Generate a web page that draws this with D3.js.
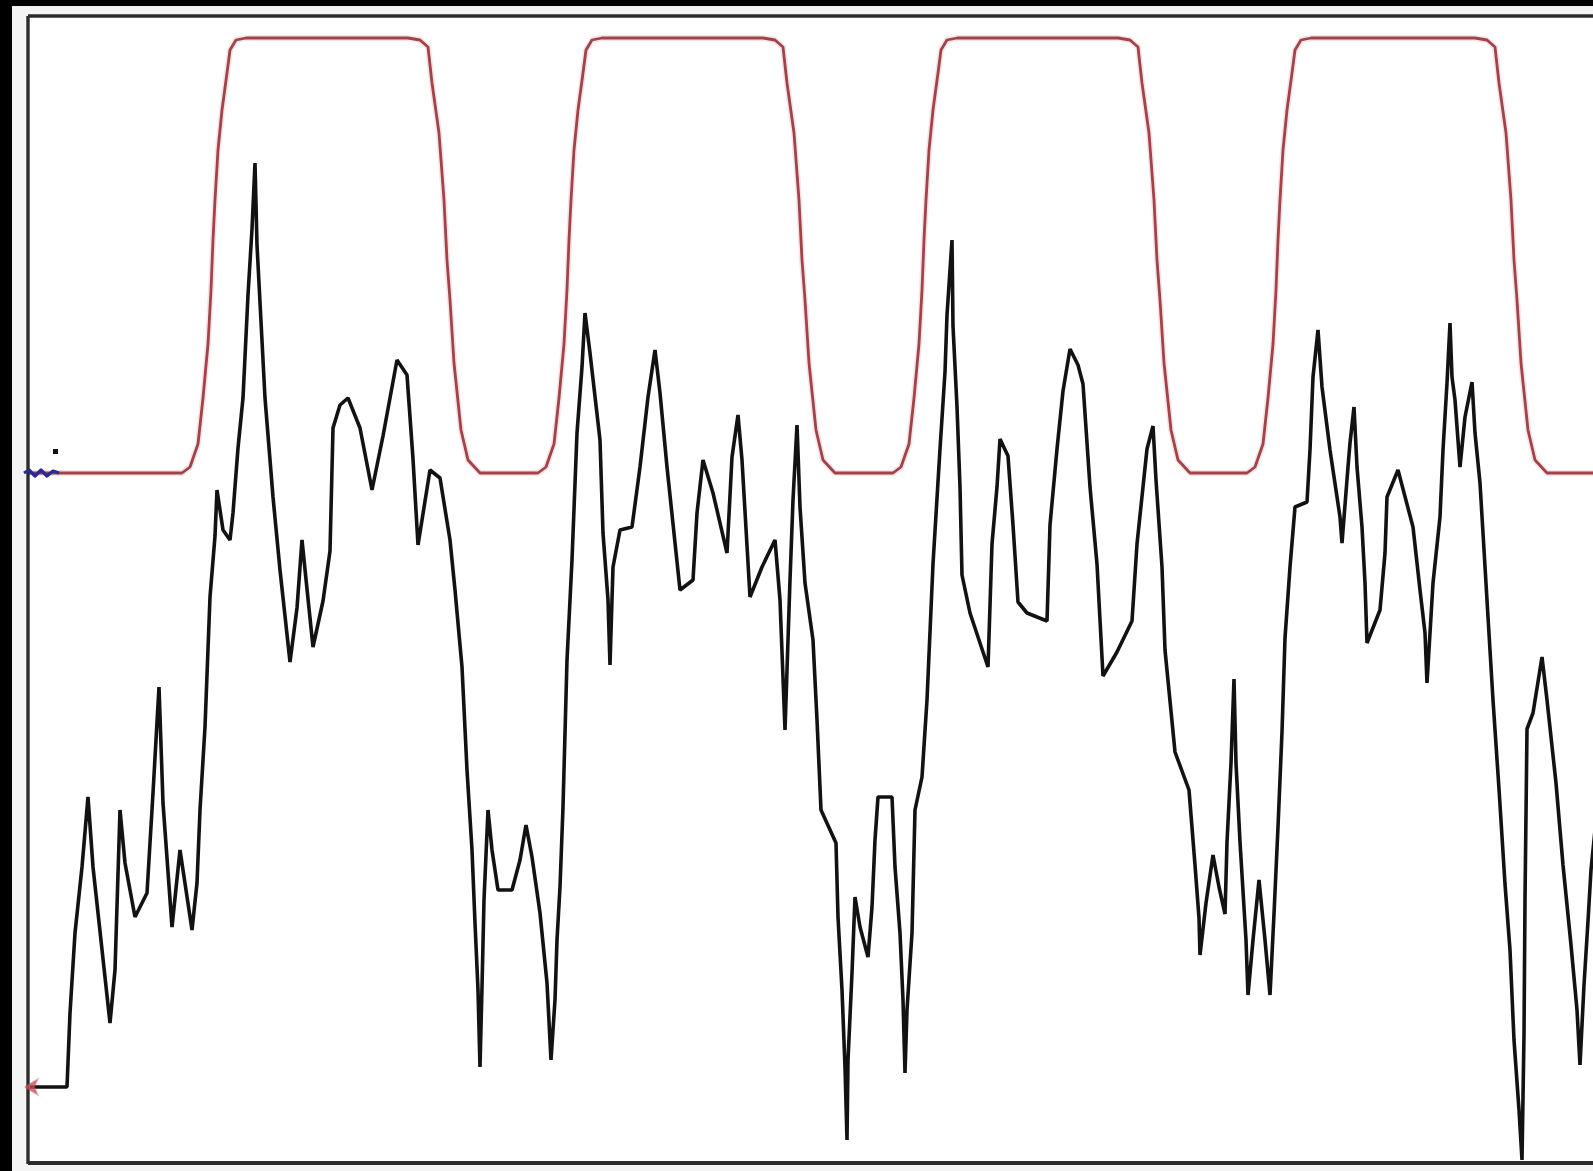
<!DOCTYPE html>
<html>
<head>
<meta charset="utf-8">
<script src="https://cdn.jsdelivr.net/npm/d3@7/dist/d3.min.js"></script>
<style>
  html, body { margin: 0; padding: 0; background: #ffffff; overflow: hidden; }
  svg { display: block; }
</style>
</head>
<body>
<svg id="scope" width="1593" height="1171"></svg>
<script>
// Time base (ms) of the capture window
const timeWindow = [0, 156.5];

// Channel 2 (reference clock), volts above its ground marker: [t ms, V]
const clockTrace = [
  [0, 0],
  [15.4, 0], [16.2, 0.06], [17.0, 0.29], [17.5, 0.75], [18.0, 1.29], [18.3, 1.83], [18.5, 2.33],
  [18.7, 2.73], [19.0, 3.23], [19.4, 3.63], [19.9, 4.00], [20.2, 4.23], [20.8, 4.33], [21.8, 4.35],
  [38.0, 4.35], [39.2, 4.33], [40.0, 4.26], [40.4, 3.90], [41.1, 3.40], [41.6, 2.73], [41.9, 2.13],
  [42.2, 1.73], [42.6, 1.10], [43.3, 0.43], [44.0, 0.13], [45.2, 0],
  [51.0, 0], [51.8, 0.06], [52.6, 0.29], [53.1, 0.75], [53.6, 1.29], [53.9, 1.83], [54.1, 2.33],
  [54.3, 2.73], [54.6, 3.23], [55.0, 3.63], [55.5, 4.00], [55.8, 4.23], [56.4, 4.33], [57.4, 4.35],
  [73.5, 4.35], [74.7, 4.33], [75.5, 4.26], [75.9, 3.90], [76.6, 3.40], [77.1, 2.73], [77.4, 2.13],
  [77.7, 1.73], [78.1, 1.10], [78.8, 0.43], [79.5, 0.13], [80.7, 0],
  [86.5, 0], [87.3, 0.06], [88.1, 0.29], [88.6, 0.75], [89.1, 1.29], [89.4, 1.83], [89.6, 2.33],
  [89.8, 2.73], [90.1, 3.23], [90.5, 3.63], [91.0, 4.00], [91.3, 4.23], [91.9, 4.33], [92.9, 4.35],
  [109.0, 4.35], [110.2, 4.33], [111.0, 4.26], [111.4, 3.90], [112.1, 3.40], [112.6, 2.73], [112.9, 2.13],
  [113.2, 1.73], [113.6, 1.10], [114.3, 0.43], [115.0, 0.13], [116.2, 0],
  [121.9, 0], [122.7, 0.06], [123.5, 0.29], [124.0, 0.75], [124.5, 1.29], [124.8, 1.83], [125.0, 2.33],
  [125.2, 2.73], [125.5, 3.23], [125.9, 3.63], [126.4, 4.00], [126.7, 4.23], [127.3, 4.33], [128.3, 4.35],
  [144.7, 4.35], [145.9, 4.33], [146.7, 4.26], [147.1, 3.90], [147.8, 3.40], [148.3, 2.73], [148.6, 2.13],
  [148.9, 1.73], [149.3, 1.10], [150.0, 0.43], [150.7, 0.13], [151.9, 0],
  [156.5, 0]
];

// Channel 1 (probe signal), volts above its ground marker: [t ms, V]
const probeTrace = [
  [0.2, 0.00], [3.9, 0.00], [4.2, 0.74], [4.7, 1.54], [5.4, 2.20], [6.0, 2.90], [6.5, 2.20],
  [8.2, 0.64], [8.7, 1.17], [9.2, 2.77], [9.7, 2.24], [10.7, 1.70], [11.9, 1.94], [12.5, 2.94],
  [13.1, 4.00], [13.5, 2.84], [14.4, 1.60], [15.2, 2.37], [16.4, 1.57], [16.9, 2.04], [17.2, 2.77],
  [17.7, 3.60], [18.2, 4.90], [18.7, 5.51], [18.9, 5.97], [19.5, 5.57], [20.2, 5.47], [20.5, 5.74],
  [21.0, 6.39], [21.5, 6.89], [22.0, 7.92], [22.4, 8.58], [22.7, 9.24], [22.9, 8.42], [23.7, 6.89],
  [24.5, 5.90], [25.2, 5.17], [26.2, 4.25], [26.9, 4.79], [27.4, 5.47], [27.9, 4.98], [28.5, 4.40],
  [29.5, 4.86], [30.2, 5.36], [30.5, 6.59], [31.2, 6.82], [32.0, 6.89], [33.2, 6.59], [34.4, 5.97],
  [35.5, 6.51], [36.9, 7.27], [37.9, 7.12], [38.5, 6.28], [39.0, 5.42], [40.2, 6.17], [41.2, 6.09],
  [42.2, 5.47], [42.7, 4.97], [43.4, 4.20], [43.9, 3.17], [44.4, 2.37], [44.7, 1.64], [45.0, 0.97],
  [45.2, 0.20], [45.4, 1.00], [45.6, 1.87], [46.0, 2.77], [46.4, 2.37], [47.0, 1.97], [48.4, 1.97],
  [49.2, 2.27], [49.8, 2.62], [50.4, 2.30], [51.2, 1.74], [51.9, 1.04], [52.3, 0.27], [52.7, 0.87],
  [52.9, 1.47], [53.2, 2.00], [53.5, 2.80], [53.9, 4.27], [54.4, 5.27], [54.9, 6.54], [55.4, 7.20],
  [55.7, 7.74], [56.2, 7.34], [57.2, 6.47], [57.5, 5.54], [58.0, 4.87], [58.2, 4.22], [58.5, 5.20],
  [59.2, 5.57], [60.4, 5.60], [61.2, 6.20], [62.0, 6.90], [62.7, 7.37], [63.2, 6.94], [63.9, 6.20],
  [65.2, 4.97], [66.5, 5.07], [66.9, 5.74], [67.5, 6.27], [68.5, 5.94], [69.9, 5.34], [70.4, 6.30],
  [71.0, 6.72], [71.4, 6.27], [72.2, 4.90], [73.4, 5.20], [74.7, 5.47], [75.2, 4.87], [75.7, 3.57],
  [76.2, 5.07], [76.5, 5.87], [76.9, 6.62], [77.2, 5.80], [77.7, 5.04], [78.5, 4.47], [78.9, 3.67],
  [79.3, 2.77], [80.8, 2.44], [81.0, 1.70], [81.4, 0.97], [81.7, 0.20], [81.9, -0.53], [82.0, 0.27],
  [82.4, 1.14], [82.7, 1.90], [83.2, 1.60], [84.0, 1.30], [84.4, 1.80], [84.7, 2.47], [85.0, 2.90],
  [86.4, 2.90], [86.7, 2.20], [87.2, 1.54], [87.5, 0.87], [87.7, 0.14], [87.9, 0.77], [88.4, 1.54],
  [88.7, 2.77], [89.4, 3.10], [89.9, 3.87], [90.5, 5.23], [91.2, 6.38], [91.7, 7.15], [91.9, 7.72],
  [92.4, 8.47], [92.5, 7.61], [92.9, 6.80], [93.2, 6.00], [93.4, 5.12], [94.2, 4.74], [96.0, 4.20],
  [96.4, 5.43], [96.9, 6.00], [97.2, 6.48], [98.0, 6.31], [98.5, 5.62], [99.0, 4.85], [99.9, 4.74],
  [101.9, 4.66], [102.2, 5.62], [102.9, 6.38], [103.5, 6.96], [104.2, 7.38], [105.0, 7.22], [105.5, 7.03],
  [106.2, 6.00], [106.9, 5.23], [107.5, 4.11], [108.9, 4.35], [110.4, 4.66], [110.9, 5.43], [111.9, 6.38],
  [112.5, 6.61], [112.8, 6.07], [113.4, 5.20], [113.7, 4.37], [114.7, 3.35], [116.1, 2.97], [116.7, 2.22],
  [117.1, 1.69], [117.2, 1.32], [117.8, 1.84], [118.5, 2.32], [119.1, 2.00], [119.7, 1.73], [119.9, 2.45],
  [120.3, 3.24], [120.6, 4.08], [120.8, 3.24], [121.2, 2.45], [121.8, 1.47], [122.0, 0.92], [122.5, 1.47],
  [123.1, 2.07], [123.7, 1.47], [124.2, 0.92], [124.6, 1.73], [125.0, 2.60], [125.4, 3.55], [125.7, 4.49],
  [126.2, 5.20], [126.7, 5.80], [127.9, 5.85], [128.2, 6.37], [128.5, 7.10], [129.0, 7.57], [129.4, 7.00],
  [130.2, 6.37], [131.2, 5.70], [131.4, 5.44], [132.0, 6.20], [132.2, 6.44], [132.6, 6.80], [132.9, 6.20],
  [133.4, 5.60], [133.7, 5.04], [133.9, 4.44], [135.2, 4.77], [135.7, 5.34], [135.9, 5.90], [137.0, 6.17],
  [138.5, 5.60], [139.2, 4.97], [139.7, 4.54], [139.9, 4.04], [140.5, 5.04], [141.2, 5.70], [141.5, 6.37],
  [141.9, 7.04], [142.2, 7.64], [142.4, 7.10], [142.7, 6.87], [143.2, 6.20], [143.7, 6.70], [144.4, 7.05],
  [144.7, 6.54], [145.2, 6.04], [145.5, 5.54], [146.0, 4.70], [146.5, 3.87], [147.1, 2.98], [147.7, 2.03],
  [148.2, 1.37], [148.6, 0.47], [149.1, -0.23], [149.4, -0.73], [149.6, 0.52], [149.7, 1.87], [149.9, 3.58],
  [150.5, 3.74], [151.4, 4.30], [151.9, 3.87], [152.8, 3.04], [153.5, 2.22], [154.3, 1.42], [154.9, 0.77],
  [155.2, 0.22], [155.6, 1.02], [156.0, 1.66], [156.3, 2.17], [156.8, 2.67]
];

// Vertical windows of the two channels (each channel has its own offset)
const probeRange = [-0.75, 10.71];
const clockRange = [-6.89, 4.57];

const colors = {
  probe: "#121212",
  clock: "#a0434a",
  clockMarker: "#2a2a96",
  probeMarker: "#c8505c",
  frame: "#2b2b2b",
  margin: "#f3f4f3",
  bezel: "#000000"
};

const W = 1593, H = 1171;
const plot = { left: 28, top: 16, right: 1593, bottom: 1162 };

const svg = d3.select("#scope");

// Outer bezel and margin
svg.append("rect").attr("x", 0).attr("y", 0).attr("width", W).attr("height", H).attr("fill", colors.margin);
svg.append("rect").attr("x", 0).attr("y", 0).attr("width", W).attr("height", 6).attr("fill", colors.bezel);
svg.append("rect").attr("x", 0).attr("y", 0).attr("width", 12).attr("height", H).attr("fill", colors.bezel);

// Screen area
svg.append("rect")
  .attr("x", plot.left).attr("y", plot.top)
  .attr("width", plot.right - plot.left + 10).attr("height", plot.bottom - plot.top)
  .attr("fill", "#ffffff");

const x = d3.scaleLinear().domain(timeWindow).range([plot.left, plot.right]);
const yProbe = d3.scaleLinear().domain(probeRange).range([plot.bottom, plot.top]);
const yClock = d3.scaleLinear().domain(clockRange).range([plot.bottom, plot.top]);

svg.append("clipPath").attr("id", "screen")
  .append("rect")
  .attr("x", plot.left + 1).attr("y", plot.top)
  .attr("width", plot.right - plot.left + 10).attr("height", plot.bottom - plot.top);

const traces = svg.append("g").attr("clip-path", "url(#screen)");

const clockLine = d3.line().x(d => x(d[0])).y(d => yClock(d[1]));
const probeLine = d3.line().x(d => x(d[0])).y(d => yProbe(d[1]));

// Soft glow around the clock trace
traces.append("path")
  .datum(clockTrace)
  .attr("d", clockLine)
  .attr("fill", "none")
  .attr("stroke", "#f0c4c4")
  .attr("stroke-width", 6)
  .attr("stroke-opacity", 0.45)
  .attr("stroke-linejoin", "round");

traces.append("path")
  .datum(clockTrace)
  .attr("d", clockLine)
  .attr("fill", "none")
  .attr("stroke", colors.clock)
  .attr("stroke-width", 2.8)
  .attr("stroke-linejoin", "round");

traces.append("path")
  .datum(probeTrace)
  .attr("d", probeLine)
  .attr("fill", "none")
  .attr("stroke", colors.probe)
  .attr("stroke-width", 3.6)
  .attr("stroke-linejoin", "bevel");

// Frame of the screen (no right border inside the view)
const frame = svg.append("g").attr("stroke", colors.frame).attr("stroke-width", 3.4).attr("fill", "none");
frame.append("line").attr("x1", plot.left).attr("x2", W).attr("y1", plot.top).attr("y2", plot.top);
frame.append("line").attr("x1", plot.left).attr("x2", plot.left).attr("y1", plot.top).attr("y2", plot.bottom + 2);
frame.append("line").attr("x1", plot.left).attr("x2", W).attr("y1", plot.bottom + 1).attr("y2", plot.bottom + 1)
  .attr("stroke-width", 4);

// Channel ground markers
const gx = x(0);
const gyClock = yClock(0);
const gyProbe = yProbe(0);

svg.append("path")
  .attr("d", d3.line()([
    [gx - 4, gyClock], [gx + 1, gyClock - 3], [gx + 7, gyClock + 3], [gx + 13, gyClock - 3],
    [gx + 19, gyClock + 3], [gx + 25, gyClock - 2], [gx + 31, gyClock]
  ]))
  .attr("fill", "none")
  .attr("stroke", colors.clockMarker)
  .attr("stroke-width", 3.2)
  .attr("stroke-linejoin", "round");

svg.append("rect")
  .attr("x", gx + 25).attr("y", gyClock - 24)
  .attr("width", 5).attr("height", 5)
  .attr("fill", "#111");

svg.append("path")
  .attr("d", d3.line()([
    [gx - 3, gyProbe], [gx + 9, gyProbe - 7], [gx + 6, gyProbe], [gx + 9, gyProbe + 7], [gx - 3, gyProbe]
  ]))
  .attr("fill", colors.probeMarker)
  .attr("fill-opacity", 0.75)
  .attr("stroke", colors.probeMarker)
  .attr("stroke-opacity", 0.5)
  .attr("stroke-width", 2);
</script>
</body>
</html>
